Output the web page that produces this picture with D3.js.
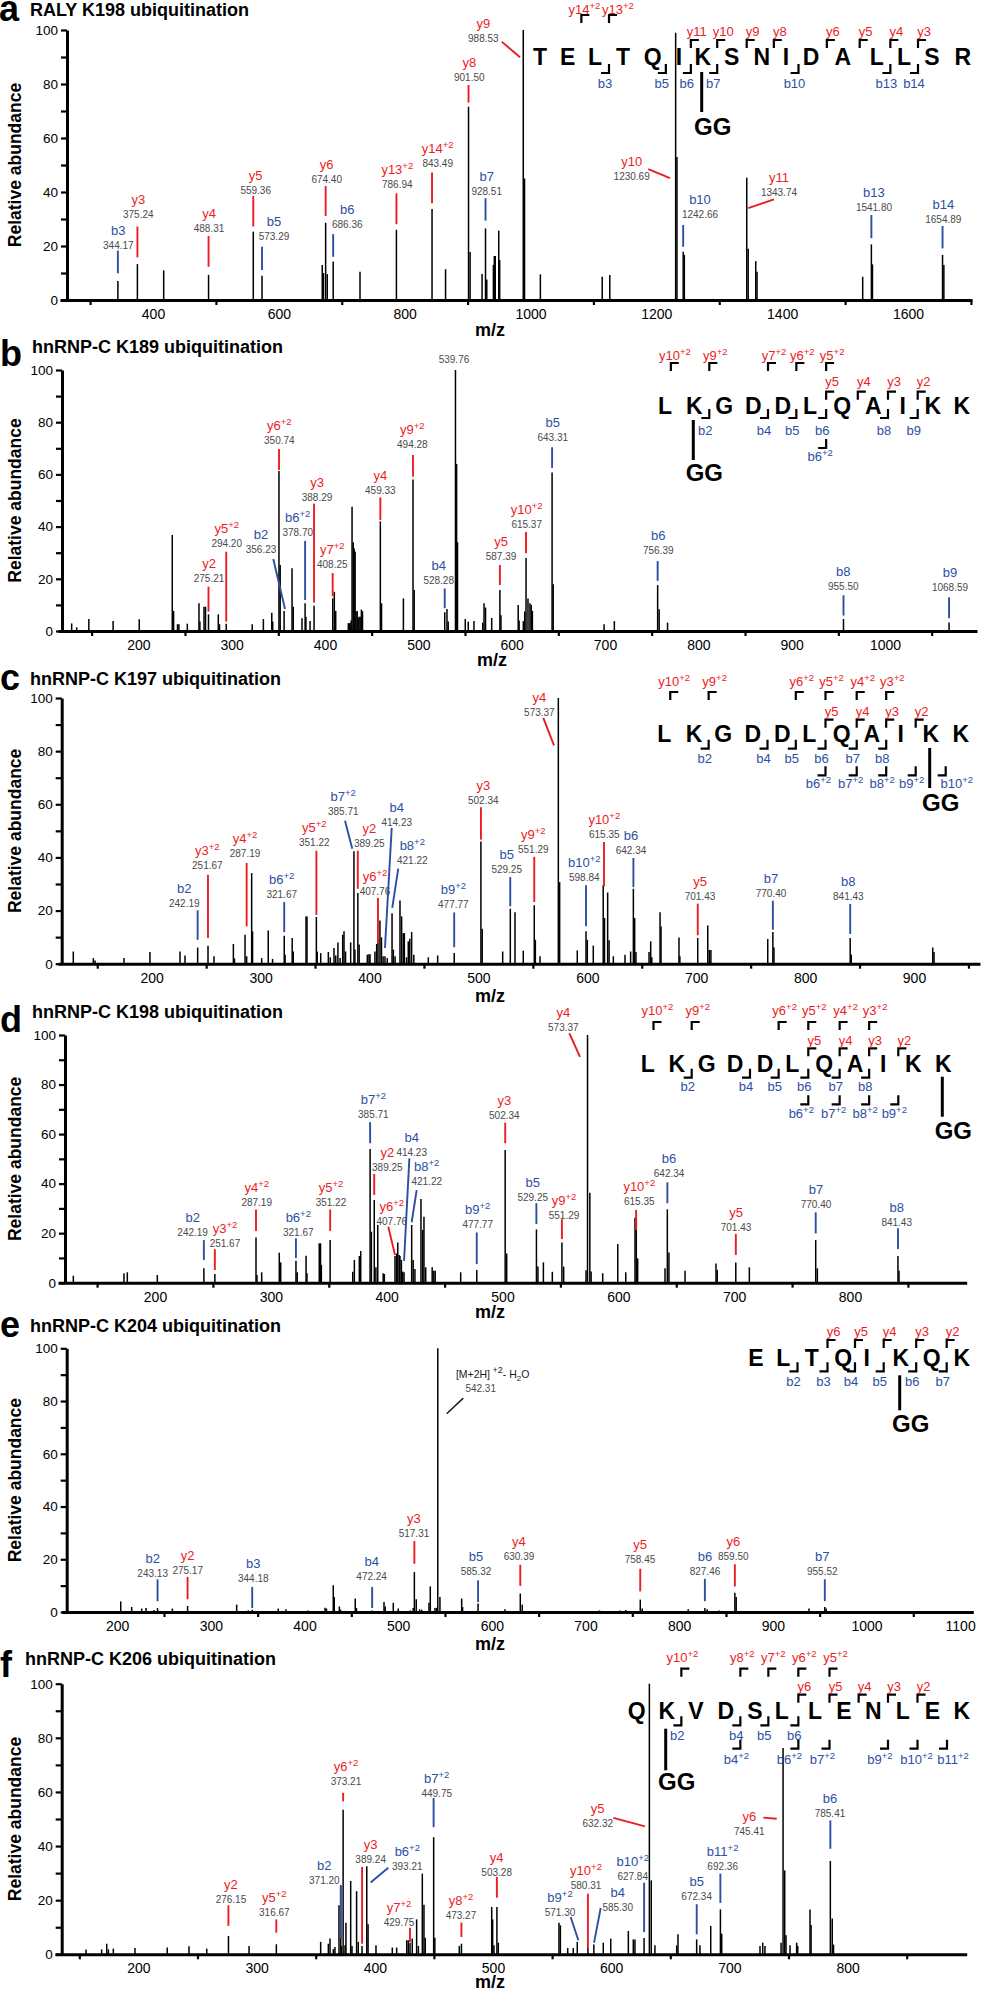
<!DOCTYPE html>
<html><head><meta charset="utf-8">
<script src="https://cdn.jsdelivr.net/npm/d3@7"></script>
<style>
html,body{margin:0;padding:0;background:#fff;}
svg{display:block;font-family:"Liberation Sans",Arial,Helvetica,sans-serif;}
</style></head><body>
<svg id="chart" width="981" height="1990"></svg>
<script>
// ===================== DATA =====================
const panelLetters = ["a","b","c","d","e","f"];
const titles = ["RALY K198 ubiquitination","hnRNP-C K189 ubiquitination","hnRNP-C K197 ubiquitination",
  "hnRNP-C K198 ubiquitination","hnRNP-C K204 ubiquitination","hnRNP-C K206 ubiquitination"];
const yTickValues = [0,10,20,30,40,50,60,70,80,90,100];
const yTickLabels = [0,20,40,60,80,100];

// x ticks (unlabelled marks) and x tick labels
const xTicksA = [300,500,700,900,1100,1300,1500,1700];
const xLabelsA = [400,600,800,1000,1200,1400,1600];
const xTicksB = [150,250,350,450,550,650,750,850,950,1050];
const xLabelsB = [200,300,400,500,600,700,800,900,1000];
const xTicksC = [150,250,350,450,550,650,750,850,950];
const xLabelsC = [200,300,400,500,600,700,800,900];
const xTicksD = [150,250,350,450,550,650,750,850];
const xLabelsD = [200,300,400,500,600,700,800];
const xTicksE = [250,350,450,550,650,750,850,950,1050];
const xLabelsE = [200,300,400,500,600,700,800,900,1000,1100];
const xTicksF = [150,250,350,450,550,650,750,850];
const xLabelsF = [200,300,400,500,600,700,800];

// peaks [m/z, relative abundance]
const peaksA = [[344.2,7],[375.2,13.3],[417,11],[488.3,9.3],[559.4,25.3],[573.3,9],[669,13],[671,10],[674.4,28.6],[677,9.6],[686.4,14.3],[729,10.5],[786.9,26],[843.5,33.7],[865,11.4],[901.5,71.6],[904,17.8],[923,9.6],[928.5,26.5],[930.5,7.6],[941,13],[942.5,16.3],[944,16.3],[949.5,25.7],[951,14.8],[988.5,100],[990.5,45],[1015.7,9.5],[1114,8.6],[1126,9.3],[1230.7,99],[1232.8,53],[1242.7,17.9],[1244.5,16.7],[1343.7,45.3],[1346,19],[1358,14.4],[1360,10.5],[1528,8.6],[1541.8,20.6],[1543.5,13.2],[1654.9,16.7],[1657,13]];
const peaksB = [[128.6,2.9],[134,1.4],[147,4.6],[173,3.8],[201,4.5],[236.4,36.8],[237.8,7.7],[242,2.6],[243.5,2.6],[252.5,2.8],[265,10.6],[266,3.6],[270.4,9.3],[272,9.3],[275.2,6.4],[285.7,6.4],[287,2.6],[294.2,2.8],[322,2.6],[334,4.6],[343,7],[344,3.6],[350.7,61.3],[352,25.3],[356.2,7.7],[364.7,24],[366,9.3],[375.4,4.9],[378.7,10.6],[379.6,5.5],[384,3.8],[388.3,9.7],[408.3,12.5],[410,15],[411.5,7.7],[425,3],[426,3],[427,3],[428,4],[429,47.6],[430.3,34],[431.3,31.6],[432.3,30.4],[433.3,7.5],[434.5,7.7],[435.5,5],[436.5,5.5],[437.7,5.5],[439,8.2],[440.2,7.6],[459.3,42],[460.6,10.6],[484,12.5],[494.3,58],[495.6,15.7],[528.3,7.2],[530.7,8.4],[532,3.6],[539.8,100],[541,64],[542,34],[550.3,4.6],[553.5,3.6],[559.6,3.8],[569,3.2],[570.4,10.6],[572,9],[578.6,5],[587.4,15.7],[588.5,6],[607,10],[608,4],[612.5,3.8],[614,7.5],[615.4,28],[617.5,12.5],[619.6,10.6],[621,10],[622.2,7.7],[643.3,60.7],[644.5,17.9],[699,2.6],[710,3.8],[756.4,17.6],[758,8.3],[767,3.2],[955.5,4.6],[1068.6,3.3]];
const peaksC = [[128,4.6],[146.4,2.1],[148,1.2],[174.6,2.1],[198.4,4.4],[226,4.6],[230.6,3.1],[242.2,6.1],[251.7,6.8],[257.2,2.8],[275,7.4],[276,2],[285.7,10.9],[287.2,2.8],[291.8,34.1],[292.6,12.2],[301,2.1],[307,12.5],[311,1.8],[321.7,10.5],[322.5,3.4],[329,9.7],[330,4.6],[341.7,17.8],[342.6,17.8],[351.2,17.6],[352,4.6],[355.2,4],[362.2,4.4],[364,2.4],[367.4,5.9],[369,3.1],[371,8],[373,2.1],[375.4,10.9],[376.6,12.2],[378,4.6],[382.7,8],[385.7,42.3],[386.6,5.3],[389.3,26.6],[390.5,7.2],[398,3.4],[399.5,3.6],[400.5,3.6],[405,4.6],[406.6,7.4],[407.8,9.7],[409.6,16.3],[411,9.9],[412.5,2.8],[414.2,2.8],[416.3,2.1],[420.7,19],[421.9,5.3],[423.5,2.8],[428,23.8],[429.5,17.8],[431,11.5],[432,11.5],[434,2.4],[435.6,8.4],[437,9.4],[438.7,11.9],[440.7,3.4],[454,2.4],[462.6,3.1],[477.8,4],[502.3,46],[503.5,13.2],[522.3,4.6],[529.3,20.7],[533.6,19.4],[541.2,4.9],[551.3,22],[552.3,9],[556.6,2.8],[573.4,100],[574.6,30.7],[590.8,5],[598.8,12.2],[600,9],[605.5,6.8],[614.6,29.5],[615.8,17.2],[618.7,26.8],[620,8.8],[623.9,2.8],[634.6,3.4],[639.8,4.6],[642.3,28.2],[643.5,17.2],[644.7,4.4],[656.7,4.4],[658.2,8.4],[659.2,2.4],[666.8,19.4],[667.7,14],[684.2,9.9],[685,2.8],[701.4,9.7],[710.6,14.4],[712,5.2],[713.5,5.2],[765.7,9.3],[770.4,11.9],[771.4,6.1],[841.4,9.7],[842.4,3.4],[917.2,6.1],[918.4,4.4]];
const peaksD = [[129.5,2.8],[173.2,3.8],[176.1,4.2],[202,3.1],[242.2,5.8],[251.7,3.5],[287.2,18.2],[288,3.1],[292.1,4.2],[307.3,12.1],[308.5,8.2],[321.7,8.9],[322.8,4.2],[330.4,10.9],[331.2,3.8],[341.8,15.9],[342.9,15.9],[343.6,7.2],[351.2,17.2],[370.7,4.4],[372.1,9.2],[376.4,10.8],[377.6,12.8],[385.7,54],[386.8,20.6],[389.3,33.4],[390.7,6.2],[392.3,23.3],[397,3.8],[398,3.5],[407.2,10.8],[408.6,11.8],[409.6,16.2],[410.8,11.2],[411.5,10.8],[412.7,9.2],[413.8,4.5],[415,4.2],[421.6,23.3],[422.9,9.2],[424.4,5.5],[429.6,33.8],[431.1,21.3],[432.2,26.6],[433.7,6.2],[439.3,6.2],[440.7,4.8],[441.9,4.8],[463.9,4.2],[477.8,5.1],[502.3,53.6],[503.6,11.8],[529.3,21.5],[530.6,6.5],[535.3,8.2],[543,4.4],[551.3,16.2],[552.8,6.5],[572.1,5],[573.4,100],[575.4,36.3],[576.5,4.5],[586.5,3.8],[599.5,15.6],[606.4,4.2],[614.4,26.2],[615.5,26.2],[616.7,9.8],[640.3,5.8],[642.3,29.6],[643.7,12.2],[657.6,4.8],[684.3,7.8],[685.4,5.2],[701.4,8.2],[713.1,6.2],[770.4,17.2],[771.8,5.8],[841.4,10.8],[842.3,4.8]];
const peaksE = [[203.8,4],[215.5,1.9],[226.2,1.3],[230.8,1.5],[239.3,0.8],[243.1,1.5],[258.9,1.3],[275.2,2.3],[327.6,2.8],[340,0.6],[344.2,0.9],[372,1.3],[380.2,1],[404,0.6],[421.9,1.6],[423.5,1.3],[430.7,10.1],[431.8,5.7],[437.2,2.1],[438.5,0.9],[454.2,5.1],[455.5,1.5],[472.2,0.6],[484.9,3.8],[486.2,2.1],[494.8,3.5],[500.1,1.3],[513,0.6],[516.1,1.5],[517.3,15.2],[519.3,4.8],[522.8,1],[525,0.9],[532.9,3.5],[534.3,9.7],[539.3,1.5],[541.1,1.6],[542.3,100],[544.6,5.7],[567.8,5.1],[568.8,1.9],[585.3,3.2],[614,1],[630.4,7],[632.5,2.8],[715,0.6],[737,0.6],[743,0.8],[758.5,4.7],[760.6,1.3],[809.7,1],[827.5,1.5],[829.9,1],[842.8,0.6],[859.5,7.3],[860.9,5.7],[938.6,1.3],[955.5,1.9],[957,1.3]];
const peaksF = [[155.7,1.8],[168.9,1.8],[173.2,3.9],[174.6,1.8],[178.8,2.1],[197.1,2.3],[224.4,2.5],[242.8,3],[257.8,2.1],[276.2,6.8],[293.6,3.1],[316.7,3.7],[354.2,4.6],[360.7,3.9],[362.1,5.8],[364.9,1.9],[366.3,2.7],[369.7,18.1],[371.2,25.5],[371.9,3],[373.2,53.4],[374.8,3.3],[375.6,11.7],[379.6,27.1],[380.7,3.1],[384.6,23.3],[386,4.6],[389.2,3.1],[393.2,32.5],[394.3,11.1],[401,3.3],[414.8,2.5],[418.5,2.5],[427,5.2],[428.3,5.2],[429.8,4.3],[431.7,5.8],[435.4,12.9],[436.9,3.1],[440.2,29.8],[441.6,18.3],[442.7,6.1],[449.8,43.3],[450.8,6.1],[471.5,3.1],[473.3,3.9],[498.9,17.5],[499.7,12.9],[500.8,3.3],[503.3,17.5],[504.5,4.3],[555.8,11.7],[557,10.7],[563.2,2.3],[567.9,2.3],[571.3,4.6],[580.3,2.3],[585.3,3.6],[593.3,4.3],[599.6,5.8],[614.5,8.6],[618.7,5.5],[620.1,5.5],[627.8,6],[632.3,100],[633.9,27.3],[637,3.3],[655.4,3.3],[656.5,7.4],[672.3,5.5],[675.1,3.3],[684.2,10.5],[692.4,16.6],[693.5,7.6],[725.9,3.1],[728.2,4.3],[730.1,3.1],[743.7,4.3],[745.4,76.2],[746.8,31],[747.9,7],[751.3,3.3],[756.9,4.3],[757.8,3.1],[768.2,16.6],[769.1,10.8],[785.4,34.5],[787,13.2],[788.1,3.6]];

// annotations: [ion type, name, charge sup, m/z, label m/z, label abundance, line y1, line y2, line x1, line x2, suffix]
const annA = [['b','b3','',344.17,344.9,20.1,18.3,9.9],['y','y3','',375.24,376.6,31.5,27.2,15.8],['y','y4','',488.31,489,26.6,23.7,12.3],
 ['y','y5','',559.36,563.2,40.7,38.5,27.2],['b','b5','',573.29,592.3,23.5,19.7,11.1],['y','y6','',674.40,676.1,44.8,42.2,31.1],
 ['b','b6','',686.36,708.8,27.8,24.4,16.0],['y','y13','+2',786.94,788.3,42.6,39.5,28.1],['y','y14','+2',843.49,852.5,50.4,47.2,35.8],
 ['y','y8','',901.50,902.7,82.5,79.6,73.1],['b','b7','',928.51,930.4,40.1,37.7,29.4],['y','y9','',988.53,925,96.9,95.7,89.9,954.2,983.3],
 ['y','y10','',1230.69,1160.8,45.7,48.5,45.1,1187.2,1221.7],['b','b10','',1242.66,1269.4,31.5,27.8,19.7],
 ['y','y11','',1343.74,1394.9,39.7,37.3,34.0,1387.0,1346.1],['b','b13','',1541.80,1545.9,34.3,31.5,22.9],['b','b14','',1654.89,1656.1,30.0,27.4,19.1]];
const annB = [['y','y2','',275.21,275.8,20.2,17.0,7.4],['y','y5','+2',294.20,294.7,33.6,30.4,3.6],['b','b2','',356.23,331.5,31.3,27.6,8.4,344.6,357.2],
 ['y','y6','+2',350.74,351.1,73.1,69.7,61.7],['b','b6','+2',378.70,370.8,37.8,34.5,11.9],['y','y3','',388.29,391.5,51.3,48.8,10.9],
 ['y','y7','+2',408.25,407.8,25.6,22.2,13.3],['y','y4','',459.33,459.3,54.0,51.2,42.5],['y','y9','+2',494.28,493.6,71.3,67.4,59.1],
 ['b','b4','',528.28,521.8,19.5,16.3,8.7],['n','','',539.76,538.2,104.2,null,null],['y','y5','',587.39,588.6,28.5,25.3,17.6],
 ['y','y10','+2',615.37,616.1,40.9,37.9,29.8],['b','b5','',643.31,644,74.1,70.4,62.5],['b','b6','',756.39,757.1,31.0,26.8,19.2],
 ['b','b8','',955.50,955.3,17.0,13.7,5.9],['b','b9','',1068.59,1069.6,16.6,12.9,4.9]];
const annC = [['b','b2','',242.19,229.9,22.8,20.1,9.0],['y','y3','+2',251.67,251.1,37.0,33.5,9.7],['y','y4','+2',287.19,285.7,41.3,37.9,14.1],
 ['b','b6','+2',321.67,319.4,26.0,23.2,11.9],['y','y5','+2',351.22,349.3,45.8,42.5,18.4],['b','b7','+2',385.71,375.9,57.1,53.8,43.3,377.5,384.2],
 ['y','y2','',389.25,399.8,45.4,42.5,28.2],['y','y6','+2',407.76,405,27.2,24.7,7.8],['b','b4','',414.23,425,53.2,51.1,5.9,420.4,414.2],
 ['b','b8','+2',421.22,439.3,38.7,35.8,21.0,426.4,420.9],['b','b9','+2',477.77,477,22.2,19.3,6.2],['y','y3','',502.34,504.5,61.3,58.9,46.7],
 ['y','y4','',573.37,556,94.7,92.5,82.2,559.6,569.4],['b','b5','',529.25,526,35.6,32.6,21.6],['y','y9','+2',551.29,550.4,42.9,40.2,23.2],
 ['b','b10','+2',598.84,597.2,32.3,29.5,14.1],['y','y10','+2',615.35,615.6,48.8,45.8,29.1],['b','b6','',642.34,640.1,42.7,39.8,28.8],
 ['y','y5','',701.43,703.5,25.4,22.6,10.7],['b','b7','',770.40,768.7,26.6,23.7,12.8],['b','b8','',841.43,839.7,25.4,22.5,11.2]];
const annD = [['b','b2','',242.19,232.5,20.3,17.2,9.2],['y','y3','+2',251.67,260.4,15.9,13.5,5.1],['y','y4','+2',287.19,287.8,32.3,29.6,20.9],
 ['b','b6','+2',321.67,323.7,20.2,17.9,9.9],['y','y5','+2',351.22,351.9,32.3,29.6,20.9],['b','b7','+2',385.71,388.5,68.0,64.8,56.3],
 ['y','y2','',389.25,400.6,46.6,43.9,35.4],['y','y6','+2',407.76,404.4,24.9,22.6,11.2,401.4,407.2],['b','b4','',414.23,421.6,52.5,50.2,8.8,419.6,415],
 ['b','b8','+2',421.22,434.6,40.8,37.4,24.4,425.9,421.6],['b','b9','+2',477.77,478.6,23.3,20.3,7.5],['y','y3','',502.34,501.6,67.7,64.6,56.3],
 ['y','y4','',573.37,552.5,103,100.7,91.2,557.7,566.9],['b','b5','',529.25,526.1,34.5,32.1,23.7],['y','y9','+2',551.29,553.1,27.3,25.6,17.6],
 ['y','y10','+2',615.35,618.1,32.7,29.4,21.3],['b','b6','',642.34,643.8,44.2,40.5,32.1],['y','y5','',701.43,701.6,22.2,19.7,11.2],
 ['b','b7','',770.40,770.7,31.4,28.4,19.9],['b','b8','',841.43,840.3,24.4,22.0,13.6]];
const annE = [['b','b2','',243.13,237.9,14.5,12.4,4.1],['y','y2','',275.17,275.3,15.8,13.3,4.8],['b','b3','',344.18,345.3,12.6,9.5,1.5],
 ['b','b4','',472.24,471.7,13.3,9.5,1.5],['y','y3','',517.31,516.9,29.7,26.9,18.3],['p','[M+2H]','+2',542.31,588.1,84.9,81.1,75.2,569.5,551.8,'- H2O'],
 ['b','b5','',585.32,583.1,15.4,12.0,3.8],['y','y4','',630.39,629,21.1,17.9,9.9],['y','y5','',758.45,758.2,19.8,16.4,7.8],
 ['b','b6','',827.46,827.6,15.4,12.6,4.1],['y','y6','',859.50,857.8,20.9,18.1,9.7],['b','b7','',955.52,952.8,15.4,12.4,4.1]];
const annF = [['y','y2','',276.15,278.3,20.3,18.1,10.5],['y','y5','+2',316.67,315,15.6,12.9,8.0],['b','b2','',371.20,357.3,27.3,25.5,5.8],
 ['y','y6','+2',373.21,375.6,63.7,59.7,56.5],['y','y3','',389.24,396.5,35.0,32.3,3.9],['b','b6','+2',393.21,427.5,32.3,32.0,26.5,411.4,396.5],
 ['y','y7','+2',429.75,420.5,11.9,9.8,4.5],['b','b7','+2',449.75,452.4,59.4,57.8,47.0],['y','y8','+2',473.27,472.9,14.4,11.7,6.4],
 ['y','y4','',503.28,503.1,30.4,28.6,20.9],['b','b9','+2',571.30,556.7,15.6,13.8,5.2,565.7,572.2],['y','y10','+2',580.31,578.7,25.5,22.4,2.3],
 ['b','b4','',585.30,605.5,17.2,17.1,4.3,591.1,585.5],['b','b10','+2',627.84,618.2,28.9,26.5,8.2],['y','y5','',632.32,588.6,48.3,50.4,47.3,601.8,628.6],
 ['b','b5','',672.34,672.3,21.4,18.5,7.4],['b','b11','+2',692.36,694.3,32.6,29.8,19.0],['y','y6','',745.41,716.8,45.5,50.5,50.1,728.7,740],
 ['b','b6','',785.41,785.1,52.2,49.5,39.0]];

// peptide sequences and fragment brackets: [label, charge, after residue #, row, fraction, label shift]
const seqA = "TELTQIKSNIDALLSR";
const yBrA = [['y11','',6,0],['y10','',7,0],['y9','',8,0],['y8','',9,0],['y6','',11,0],['y5','',12,0],['y4','',13,0],['y3','',14,0],['y14','+2',2,1,null,-3],['y13','+2',3,1,null,3]];
const bBrA = [['b3','',3,0],['b5','',5,0],['b6','',6,0],['b7','',7,0],['b10','',10,0],['b13','',13,0],['b14','',14,0]];
const ggA = 7;
const seqB = "LKGDDLQAIKK";
const yBrB = [['y10','+2',1,1,0.2,-2],['y9','+2',2,1],['y7','+2',4,1],['y6','+2',5,1],['y5','+2',6,1],['y5','',6,0],['y4','',7,0],['y3','',8,0],['y2','',9,0]];
const bBrB = [['b2','',2,0],['b4','',4,0],['b5','',5,0],['b6','',6,0],['b8','',8,0],['b9','',9,0],['b6','+2',6,1,null,-2]];
const ggB = 2;
const seqC = "LKGDDLQAIKK";
const yBrC = [['y10','+2',1,1,0.2,-2],['y9','+2',2,1],['y6','+2',5,1],['y5','+2',6,1],['y4','+2',7,1],['y3','+2',8,1],['y5','',6,0],['y4','',7,0],['y3','',8,0],['y2','',9,0]];
const bBrC = [['b2','',2,0],['b4','',4,0],['b5','',5,0],['b6','',6,0],['b7','',7,0],['b8','',8,0],['b6','+2',6,1,null,-3],['b7','+2',7,1,null,-2],['b8','+2',8,1],['b9','+2',9,1],['b10','+2',10,1,null,15]];
const ggC = 10;
const seqD = "LKGDDLQAIKK";
const yBrD = [['y10','+2',1,1,0.2,-2],['y9','+2',2,1],['y6','+2',5,1],['y5','+2',6,1],['y4','+2',7,1],['y3','+2',8,1],['y5','',6,0],['y4','',7,0],['y3','',8,0],['y2','',9,0]];
const bBrD = [['b2','',2,0],['b4','',4,0],['b5','',5,0],['b6','',6,0],['b7','',7,0],['b8','',8,0],['b6','+2',6,1,null,-3],['b7','+2',7,1,null,-2],['b8','+2',8,1],['b9','+2',9,1]];
const ggD = 11;
const seqE = "ELTQIKQK";
const yBrE = [['y6','',3,0],['y5','',4,0],['y4','',5,0],['y3','',6,0],['y2','',7,0]];
const bBrE = [['b2','',2,0],['b3','',3,0],['b4','',4,0],['b5','',5,0],['b6','',6,0],['b7','',7,0]];
const ggE = 6;
const seqF = "QKVDSLLENLEK";
const yBrF = [['y10','+2',2,1,null,-5],['y8','+2',4,1,null,-4],['y7','+2',5,1,null,-1],['y6','+2',6,1],['y5','+2',7,1],['y6','',6,0],['y5','',7,0],['y4','',8,0],['y3','',9,0],['y2','',10,0]];
const bBrF = [['b2','',2,0],['b4','',4,0],['b5','',5,0],['b6','',6,0],['b4','+2',4,1],['b6','+2',6,1,null,-5],['b7','+2',7,1,null,-3],['b9','+2',9,1,null,-4],['b10','+2',10,1,null,3],['b11','+2',11,1,null,10]];
const ggF = 2;

// ===================== LAYOUT (pixels) =====================
const layouts = [
 {letter:[-1,21], title:[30,16], xRef:[[400,153],[1600,908]], xLine:[60,972], yAxisX:67, y0:300, y100:30, mz:[490,336],
  seqX:[540,567.7,595,623,652.7,679,702.7,731.7,761.7,786,811,842.7,876.7,904,932,962.7], seqBase:65,
  yTop:[40,15], yLab:[36,13.5], bBot:[73], bLab:[88], ggLine:[72,112], ggBase:135},
 {letter:[0,366], title:[32,353], xRef:[[200,138.3],[1050,931.7]], xLine:[58,977], yAxisX:62, y0:631, y100:370, mz:[492,666],
  seqX:[665,694.3,724.3,753.3,782.7,810,842.3,873.3,902.7,932.7,961.7], seqBase:414,
  yTop:[391.7,363], yLab:[386,360], bBot:[418,448], bLab:[434.5,461], ggLine:[420,460], ggBase:481},
 {letter:[0,690], title:[30,685], xRef:[[200,151.7],[900,914]], xLine:[58,980], yAxisX:61.7, y0:963.7, y100:698, mz:[490,1002],
  seqX:[664.3,694,723.3,752.7,782.3,809.3,841.7,871.7,900.7,930.7,960.7], seqBase:742,
  yTop:[719.7,692], yLab:[716,686], bBot:[748.7,775.3], bLab:[762.5,787.5], ggLine:[748,788], ggBase:810.5},
 {letter:[0,1032], title:[32,1018], xRef:[[200,155],[800,850]], xLine:[58,966.7], yAxisX:65, y0:1282.7, y100:1035, mz:[490,1318],
  seqX:[647.7,676.7,706.7,735,765,792.3,824.3,855,883.3,913.3,943.3], seqBase:1071.7,
  yTop:[1048.3,1022], yLab:[1044.5,1014.5], bBot:[1077.7,1104.3], bLab:[1091,1118], ggLine:[1076.7,1116.7], ggBase:1139},
 {letter:[0,1337], title:[30,1332], xRef:[[250,164],[1050,913.3]], xLine:[61.7,973.3], yAxisX:66.7, y0:1612, y100:1348.3, mz:[490,1650],
  seqX:[756,783.3,811.7,843.3,866.7,900.7,931.7,961.7], seqBase:1366,
  yTop:[1340], yLab:[1335.5], bBot:[1371.3], bLab:[1385.5], ggLine:[1375.3,1410.3], ggBase:1432},
 {letter:[0,1677], title:[25,1665], xRef:[[150,79.3],[850,906.7]], xLine:[55,966.7], yAxisX:61.7, y0:1954.3, y100:1683.7, mz:[490,1987.5],
  seqX:[636.7,666.7,696,725.7,755,781.7,815,844,873.3,902.7,932.3,961.7], seqBase:1718.7,
  yTop:[1694.7,1668.7], yLab:[1690.5,1661.5], bBot:[1725.3,1748.7], bLab:[1740,1764], ggLine:[1728.7,1770.3], ggBase:1790}
];

const panels = [
 {peaks:peaksA, ann:annA, xTicks:xTicksA, xLabels:xLabelsA, seq:seqA, yBr:yBrA, bBr:bBrA, gg:ggA},
 {peaks:peaksB, ann:annB, xTicks:xTicksB, xLabels:xLabelsB, seq:seqB, yBr:yBrB, bBr:bBrB, gg:ggB},
 {peaks:peaksC, ann:annC, xTicks:xTicksC, xLabels:xLabelsC, seq:seqC, yBr:yBrC, bBr:bBrC, gg:ggC},
 {peaks:peaksD, ann:annD, xTicks:xTicksD, xLabels:xLabelsD, seq:seqD, yBr:yBrD, bBr:bBrD, gg:ggD},
 {peaks:peaksE, ann:annE, xTicks:xTicksE, xLabels:xLabelsE, seq:seqE, yBr:yBrE, bBr:bBrE, gg:ggE},
 {peaks:peaksF, ann:annF, xTicks:xTicksF, xLabels:xLabelsF, seq:seqF, yBr:yBrF, bBr:bBrF, gg:ggF}
];

// ===================== DRAW =====================
const FONT = '"Liberation Sans", Arial, Helvetica, sans-serif';
const RED = "#ec1c24", BLUE = "#2c4fa3", GRAY = "#4a4a4a";
const svg = d3.select("#chart");

function labelText(sel, name, sup, size, supSize) {
  sel.append("tspan").text(name);
  if (sup) sel.append("tspan").attr("font-size", supSize).attr("dy", -size*0.36).text(sup);
}

panels.forEach((P, i) => {
  const L = layouts[i];
  const g = svg.append("g");
  const ref = d3.scaleLinear().domain([L.xRef[0][0], L.xRef[1][0]]).range([L.xRef[0][1], L.xRef[1][1]]);
  const x = d3.scaleLinear().domain([ref.invert(L.xLine[0]), ref.invert(L.xLine[1])]).range(L.xLine);
  const y = d3.scaleLinear().domain([0, 100]).range([L.y0, L.y100]);

  // panel letter and title
  g.append("text").attr("x", L.letter[0]).attr("y", L.letter[1]).attr("font-size", 36).attr("font-weight", "bold").text(panelLetters[i]);
  g.append("text").attr("x", L.title[0]).attr("y", L.title[1]).attr("font-size", 18).attr("font-weight", "bold").text(titles[i]);

  // peaks
  g.append("g").selectAll("line").data(P.peaks).join("line")
    .attr("x1", d => x(d[0])).attr("x2", d => x(d[0]))
    .attr("y1", y(0)).attr("y2", d => y(d[1]))
    .attr("stroke", "#000").attr("stroke-width", 1.5);

  // x axis: tick marks
  const xa = g.append("g").attr("transform", `translate(0,${L.y0})`)
    .call(d3.axisBottom(x).tickValues(P.xTicks).tickSize(5).tickSizeOuter(0).tickFormat(""));
  xa.select(".domain").attr("stroke-width", 3);
  xa.selectAll(".tick line").attr("stroke-width", 2.2);
  // x axis: labels
  const xb = g.append("g").attr("transform", `translate(0,${L.y0})`)
    .call(d3.axisBottom(x).tickValues(P.xLabels).tickSize(0).tickPadding(9).tickFormat(d3.format("d")));
  xb.select(".domain").remove();
  xb.attr("font-family", FONT).attr("font-size", 14);
  xb.selectAll("text").attr("fill", "#000");

  // y axis
  const ya = g.append("g").attr("transform", `translate(${L.yAxisX},0)`)
    .call(d3.axisLeft(y).tickValues(yTickValues).tickSize(6).tickPadding(3).tickSizeOuter(0)
      .tickFormat(d => yTickLabels.includes(d) ? d : ""));
  ya.select(".domain").attr("stroke-width", 3);
  ya.selectAll(".tick line").attr("stroke-width", 2.2);
  ya.attr("font-family", FONT).attr("font-size", 13.5);
  ya.selectAll("text").attr("fill", "#000");

  // axis titles
  g.append("text").attr("transform", `translate(20.5,${(L.y0 + L.y100) / 2}) rotate(-90)`)
    .attr("text-anchor", "middle").attr("font-size", 17.5).attr("font-weight", "bold").text("Relative abundance");
  g.append("text").attr("x", L.mz[0]).attr("y", L.mz[1]).attr("text-anchor", "middle")
    .attr("font-size", 18).attr("font-weight", "bold").text("m/z");

  // annotations
  P.ann.forEach(a => {
    const [kind, name, sup, mzv, lx, ly, y1, y2, x1, x2, suffix] = a;
    const col = kind === 'y' ? RED : kind === 'b' ? BLUE : "#1a1a1a";
    if (y1 != null) {
      g.append("line")
        .attr("x1", x(x1 != null ? x1 : mzv)).attr("x2", x(x2 != null ? x2 : mzv))
        .attr("y1", y(y1)).attr("y2", y(y2))
        .attr("stroke", col).attr("stroke-width", kind === 'p' ? 1.5 : 1.9);
    }
    const vx = x(lx), vy = y(ly);
    g.append("text").attr("x", vx).attr("y", vy + 3.5).attr("text-anchor", "middle")
      .attr("font-size", 10).attr("fill", GRAY).text(mzv.toFixed(2));
    if (name) {
      const isP = kind === 'p';
      const t = g.append("text").attr("x", vx + (isP ? 12 : 0)).attr("y", vy + 3.5 - 14)
        .attr("text-anchor", "middle").attr("font-size", isP ? 10.5 : 13).attr("fill", col);
      t.append("tspan").text(name);
      if (sup) t.append("tspan").attr("font-size", isP ? 9 : 9.5).attr("dy", -5).text(isP ? " " + sup : sup);
      if (suffix) {
        // render digits of the suffix as subscripts
        let shifted = sup ? -5 : 0;
        suffix.split(/(\d)/).filter(s => s).forEach(part => {
          const isSub = /\d/.test(part);
          const target = isSub ? 3 : 0;
          t.append("tspan").attr("dy", target - shifted).attr("font-size", isSub ? 8 : 10.5).text(part);
          shifted = target;
        });
      }
    }
  });

  // sequence
  const sg = g.append("g");
  P.seq.split("").forEach((ch, k) => {
    sg.append("text").attr("x", L.seqX[k]).attr("y", L.seqBase).attr("text-anchor", "middle")
      .attr("font-size", 23).attr("font-weight", "bold").text(ch);
  });
  const gapX = (gp, f) => L.seqX[gp - 1] + (f == null ? 0.5 : f) * (L.seqX[gp] - L.seqX[gp - 1]);
  P.yBr.forEach(([lab, sup, gp, row, f, dx]) => {
    const gx = gapX(gp, f), top = L.yTop[row];
    sg.append("path").attr("d", `M${gx},${top + 8}V${top}H${gx + 8}`)
      .attr("fill", "none").attr("stroke", "#000").attr("stroke-width", 2.2);
    const t = sg.append("text").attr("x", gx + 6 + (dx || 0)).attr("y", L.yLab[row]).attr("text-anchor", "middle")
      .attr("font-size", 13).attr("fill", RED);
    labelText(t, lab, sup, 13, 9.5);
  });
  P.bBr.forEach(([lab, sup, gp, row, f, dx]) => {
    const gx = gapX(gp, f), bot = L.bBot[row];
    sg.append("path").attr("d", `M${gx},${bot - 9}V${bot}H${gx - 8}`)
      .attr("fill", "none").attr("stroke", "#000").attr("stroke-width", 2.2);
    const t = sg.append("text").attr("x", gx - 4 + (dx || 0)).attr("y", L.bLab[row]).attr("text-anchor", "middle")
      .attr("font-size", 13).attr("fill", BLUE);
    labelText(t, lab, sup, 13, 9.5);
  });
  const kx = L.seqX[P.gg - 1];
  sg.append("line").attr("x1", kx - 1).attr("x2", kx - 1).attr("y1", L.ggLine[0]).attr("y2", L.ggLine[1])
    .attr("stroke", "#000").attr("stroke-width", 3);
  sg.append("text").attr("x", kx + 10).attr("y", L.ggBase).attr("text-anchor", "middle")
    .attr("font-size", 24).attr("font-weight", "bold").text("GG");
});
</script>
</body></html>
